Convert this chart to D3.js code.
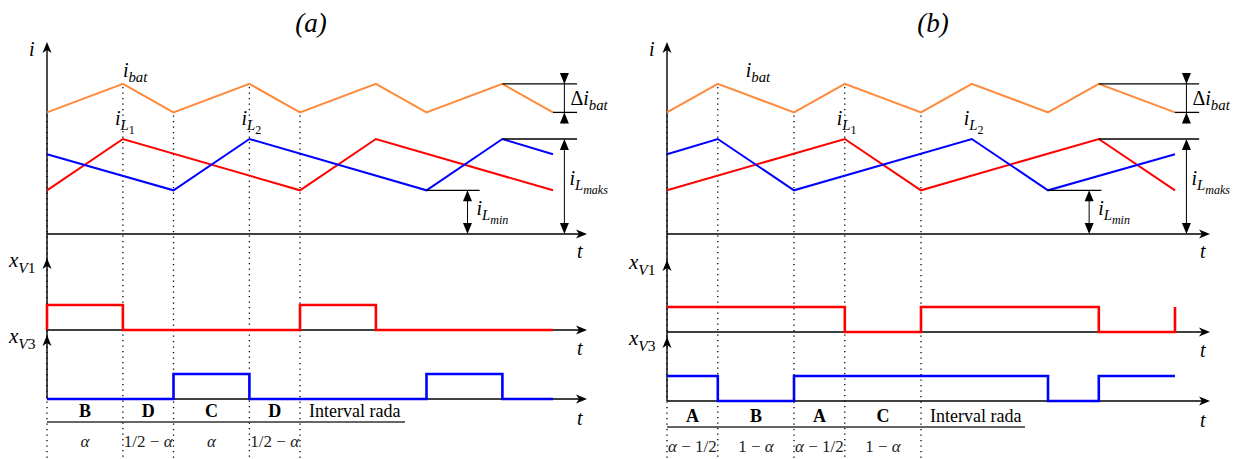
<!DOCTYPE html>
<meta charset="utf-8">
<body style="margin:0;background:#fff"></body>

<script src="https://cdn.jsdelivr.net/npm/d3@7"></script>
<script>
// time in switching periods T, currents in relative units (0 = t axis)
var ibatA = [[0,0.64],[0.3,0.79],[0.5,0.64],[0.8,0.79],[1,0.64],[1.3,0.79],[1.5,0.64],[1.8,0.79],[2,0.64]];
var iL1A  = [[0,0.23],[0.3,0.5],[1,0.23],[1.3,0.5],[2,0.23]];
var iL2A  = [[0,0.42],[0.5,0.23],[0.8,0.5],[1.5,0.23],[1.8,0.5],[2,0.42]];
var xV1A  = [[0,0],[0,1],[0.3,0],[1,1],[1.3,0],[2,0]];
var xV3A  = [[0,0],[0.5,1],[0.8,0],[1.5,1],[1.8,0],[2,0]];
var boundsA = [0, 0.3, 0.5, 0.8, 1];
var namesA  = ["B", "D", "C", "D"];
var lensA   = ["α", "1/2 − α", "α", "1/2 − α"];

var ibatB = [[0,0.64],[0.2,0.79],[0.5,0.64],[0.7,0.79],[1,0.64],[1.2,0.79],[1.5,0.64],[1.7,0.79],[2,0.64]];
var iL1B  = [[0,0.23],[0.7,0.5],[1,0.23],[1.7,0.5],[2,0.23]];
var iL2B  = [[0,0.42],[0.2,0.5],[0.5,0.23],[1.2,0.5],[1.5,0.23],[2,0.42]];
var xV1B  = [[0,1],[0.7,0],[1,1],[1.7,0],[2,0],[2,1]];
var xV3B  = [[0,1],[0.2,0],[0.5,1],[1.5,0],[1.7,1],[2,1]];
var boundsB = [0, 0.2, 0.5, 0.7, 1];
var namesB  = ["A", "B", "A", "C"];
var lensB   = ["α − 1/2", "1 − α", "α − 1/2", "1 − α"];

var panels = [
  {title: "(a)", titleX: 311, x0: 47, w: 506, axisEnd: 587,
   ibat: ibatA, iL1: iL1A, iL2: iL2A, v1: xV1A, v3: xV3A,
   bounds: boundsA, names: namesA, lens: lensA,
   v1Base: 330, v3Base: 399, tabY: 422, ibatLab: 0.3, iL1Lab: 0.3, iL2Lab: 0.8},
  {title: "(b)", titleX: 933, x0: 667, w: 508, axisEnd: 1210,
   ibat: ibatB, iL1: iL1B, iL2: iL2B, v1: xV1B, v3: xV3B,
   bounds: boundsB, names: namesB, lens: lensB,
   v1Base: 332, v3Base: 401, tabY: 427, ibatLab: 0.31, iL1Lab: 0.7, iL2Lab: 1.2}
];

var W = 1246, H = 459;
var serif = "Liberation Serif, Times New Roman, serif";

var svg = d3.select("body").append("svg")
    .attr("width", W)
    .attr("height", H)
    .style("display", "block");

// text with sub / subsub levels: parts = [text, level, italic]
function tex(g, x, y, parts, size, anchor) {
  var t = g.append("text")
      .attr("x", x).attr("y", y)
      .style("font-family", serif)
      .attr("font-size", size)
      .attr("text-anchor", anchor || "start");
  var cur = 0;
  parts.forEach(function(p) {
    var lvl = p[1];
    var off = [0, size * 0.27, size * 0.45][lvl];
    t.append("tspan")
        .attr("dy", off - cur)
        .attr("font-size", size * [1, 0.74, 0.6][lvl])
        .attr("font-style", p[2] ? "italic" : "normal")
        .text(p[0]);
    cur = off;
  });
  return t;
}

function head(g, x, y, angle, stealth) {
  var p = stealth ? "M0,0L-11,-4.5L-8,0L-11,4.5Z" : "M0,0L-11,-4.5L-11,4.5Z";
  g.append("path")
      .attr("d", p)
      .attr("transform", "translate(" + x + "," + y + ") rotate(" + angle + ")")
      .attr("fill", "#000");
}

function line(g, x1, y1, x2, y2, w, col) {
  return g.append("line")
      .attr("x1", x1).attr("y1", y1).attr("x2", x2).attr("y2", y2)
      .attr("stroke", col || "#000")
      .attr("stroke-width", w || 1.3);
}

function valueAt(data, t) {
  for (var i = 1; i < data.length; i++) {
    if (t <= data[i][0]) {
      var a = data[i - 1], b = data[i];
      return a[1] + (b[1] - a[1]) * (t - a[0]) / (b[0] - a[0]);
    }
  }
  return data[data.length - 1][1];
}

function lenText(g, x, y, str) {
  var t = g.append("text")
      .attr("x", x).attr("y", y)
      .style("font-family", serif)
      .attr("font-size", 17)
      .attr("fill", "#222")
      .attr("text-anchor", "middle");
  str.split(/(α)/).forEach(function(s) {
    if (s === "") return;
    t.append("tspan").attr("font-style", s === "α" ? "italic" : "normal").text(s);
  });
}

panels.forEach(function(p) {
  var g = svg.append("g");

  var x = d3.scaleLinear().domain([0, 2]).range([p.x0, p.x0 + p.w]);
  var yI = d3.scaleLinear().domain([0, 1]).range([234, 44]);
  var y1 = d3.scaleLinear().domain([0, 1]).range([p.v1Base, p.v1Base - 25]);
  var y3 = d3.scaleLinear().domain([0, 1]).range([p.v3Base, p.v3Base - 25]);

  // title
  g.append("text")
      .attr("x", p.titleX).attr("y", 32)
      .attr("text-anchor", "middle")
      .style("font-family", serif)
      .attr("font-style", "italic")
      .attr("font-size", 27)
      .text(p.title);

  // dotted interval boundaries
  p.bounds.forEach(function(t) {
    line(g, x(t), yI(valueAt(p.ibat, t)) + 3, x(t), H, 1.3)
        .attr("stroke-dasharray", "1.3,4.2");
  });

  // axes
  line(g, p.x0, p.v3Base, p.x0, 46, 1.4);
  head(g, p.x0, 42, -90, true);
  head(g, p.x0, p.v1Base - 72, -90, true);
  head(g, p.x0, p.v3Base - 64, -90, true);
  [234, p.v1Base, p.v3Base].forEach(function(yy) {
    line(g, p.x0, yy, p.axisEnd - 4, yy, 1.4);
    head(g, p.axisEnd, yy, 0, true);
  });
  tex(g, p.axisEnd - 10, 258, [["t", 0, true]], 20);
  tex(g, p.axisEnd - 10, p.v1Base + 25, [["t", 0, true]], 20);
  tex(g, p.axisEnd - 10, p.v3Base + 26, [["t", 0, true]], 20);
  tex(g, p.x0 - 18, 56, [["i", 0, true]], 20);
  tex(g, p.x0 - 38, p.v1Base - 63, [["x", 0, true], ["V", 1, true], ["1", 1, false]], 21);
  tex(g, p.x0 - 38, p.v3Base - 56, [["x", 0, true], ["V", 1, true], ["3", 1, false]], 21);

  // current waveforms
  var ln = d3.line().x(function(d) { return x(d[0]); }).y(function(d) { return yI(d[1]); });
  [[p.ibat, "#ff8a3c"], [p.iL1, "#ff0000"], [p.iL2, "#0000ff"]].forEach(function(s) {
    g.append("path")
        .attr("d", ln(s[0]))
        .attr("fill", "none")
        .attr("stroke", s[1])
        .attr("stroke-width", 2);
  });

  // switching signals
  var st1 = d3.line().curve(d3.curveStepAfter).x(function(d) { return x(d[0]); }).y(function(d) { return y1(d[1]); });
  var st3 = d3.line().curve(d3.curveStepAfter).x(function(d) { return x(d[0]); }).y(function(d) { return y3(d[1]); });
  g.append("path").attr("d", st1(p.v1)).attr("fill", "none").attr("stroke", "#ff0000").attr("stroke-width", 2.6);
  g.append("path").attr("d", st3(p.v3)).attr("fill", "none").attr("stroke", "#0000ff").attr("stroke-width", 2.6);

  // waveform labels
  var ibMax = d3.max(p.ibat, function(d) { return d[1]; });
  var ilMax = d3.max(p.iL1.concat(p.iL2), function(d) { return d[1]; });
  tex(g, x(p.ibatLab), 77, [["i", 0, true], ["bat", 1, true]], 20);
  tex(g, x(p.iL1Lab) - 8, 125, [["i", 0, true], ["L", 1, true], ["1", 2, false]], 20);
  tex(g, x(p.iL2Lab) - 8, 125, [["i", 0, true], ["L", 1, true], ["2", 2, false]], 20);

  // dimension annotations
  var ibMin = d3.min(p.ibat, function(d) { return d[1]; });
  var ilMin = d3.min(p.iL2, function(d) { return d[1]; });
  var tIbPk = d3.max(p.ibat.filter(function(d) { return d[1] === ibMax; }), function(d) { return d[0]; });
  var tIlPk = d3.max(p.iL1.concat(p.iL2).filter(function(d) { return d[1] === ilMax; }), function(d) { return d[0]; });
  var tIlMn = d3.max(p.iL2.filter(function(d) { return d[1] === ilMin && d[0] < 2; }), function(d) { return d[0]; });
  var dx = x(2.045), dEnd = x(2.095);

  line(g, x(tIbPk), yI(ibMax), dEnd, yI(ibMax));
  line(g, x(2), yI(ibMin), dEnd, yI(ibMin));
  line(g, dx, yI(ibMax) - 11, dx, yI(ibMin) + 11, 1);
  head(g, dx, yI(ibMax), 90, false);
  head(g, dx, yI(ibMin), -90, false);
  tex(g, dx + 6, 105, [["Δ", 0, false], ["i", 0, true], ["bat", 1, true]], 20);

  line(g, x(tIlPk), yI(ilMax), dEnd, yI(ilMax));
  line(g, dx, yI(ilMax) + 10, dx, yI(0) - 10, 1);
  head(g, dx, yI(ilMax), -90, false);
  head(g, dx, yI(0), 90, false);
  tex(g, dx + 5, 185, [["i", 0, true], ["L", 1, true], ["maks", 2, true]], 20);

  var mx = x(1.662);
  line(g, x(tIlMn), yI(ilMin), x(1.71), yI(ilMin));
  line(g, mx, yI(ilMin) + 10, mx, yI(0) - 10, 1);
  head(g, mx, yI(ilMin), -90, false);
  head(g, mx, yI(0), 90, false);
  tex(g, mx + 9, 215, [["i", 0, true], ["L", 1, true], ["min", 2, true]], 20);

  // interval table
  line(g, p.x0, p.tabY, p.x0 + 358, p.tabY, 1.6, "#333");
  p.names.forEach(function(n, i) {
    var cx = (x(p.bounds[i]) + x(p.bounds[i + 1])) / 2;
    g.append("text")
        .attr("x", cx).attr("y", p.tabY - 5)
        .attr("text-anchor", "middle")
        .style("font-family", serif)
        .attr("font-weight", "bold")
        .attr("font-size", 18)
        .text(n);
    lenText(g, cx, p.tabY + 25, p.lens[i]);
  });
  g.append("text")
      .attr("x", x(1) + 9).attr("y", p.tabY - 5)
      .style("font-family", serif)
      .attr("font-size", 18)
      .text("Interval rada");
});
</script>
